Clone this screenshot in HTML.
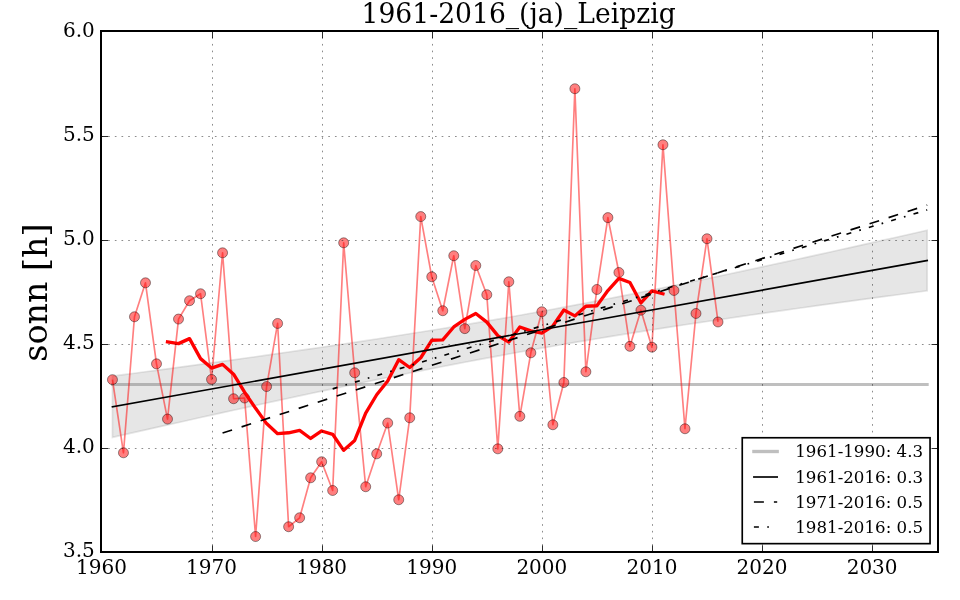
<!DOCTYPE html>
<html><head><meta charset="utf-8"><title>1961-2016_(ja)_Leipzig</title>
<style>html,body{margin:0;padding:0;background:#fff;overflow:hidden}svg{display:block}</style></head>
<body>
<svg width="960" height="600" viewBox="0 0 960 600">
<rect x="0" y="0" width="960" height="600" fill="#fff"/>
<polygon points="112.46,376.15 123.47,374.69 134.48,373.23 145.49,371.77 156.5,370.3 167.51,368.82 178.52,367.34 189.53,365.84 200.54,364.35 211.55,362.84 222.56,361.32 233.57,359.8 244.58,358.27 255.59,356.73 266.6,355.18 277.61,353.61 288.62,352.04 299.63,350.45 310.64,348.86 321.65,347.24 332.66,345.62 343.67,343.98 354.68,342.33 365.69,340.66 376.7,338.97 387.71,337.27 398.72,335.54 409.73,333.8 420.74,332.04 431.75,330.26 442.76,328.46 453.77,326.64 464.78,324.8 475.79,322.93 486.8,321.04 497.81,319.13 508.82,317.2 519.83,315.24 530.83,313.26 541.84,311.26 552.85,309.23 563.86,307.18 574.87,305.11 585.88,303.01 596.89,300.89 607.9,298.75 618.91,296.59 629.92,294.41 640.93,292.21 651.94,290 662.95,287.76 673.96,285.5 684.97,283.23 695.98,280.94 706.99,278.64 718,276.32 729.01,273.99 740.02,271.64 751.03,269.28 762.04,266.91 773.05,264.53 784.06,262.13 795.07,259.73 806.08,257.32 817.09,254.89 828.1,252.46 839.11,250.02 850.12,247.57 861.13,245.11 872.14,242.65 883.15,240.18 894.16,237.7 905.17,235.22 916.18,232.73 927.19,230.24 927.19,290.82 916.18,292.28 905.17,293.74 894.16,295.21 883.15,296.69 872.14,298.17 861.13,299.66 850.12,301.16 839.11,302.66 828.1,304.17 817.09,305.69 806.08,307.22 795.07,308.76 784.06,310.3 773.05,311.86 762.04,313.43 751.03,315.01 740.02,316.6 729.01,318.21 718,319.83 706.99,321.46 695.98,323.11 684.97,324.77 673.96,326.45 662.95,328.15 651.94,329.87 640.93,331.6 629.92,333.35 618.91,335.12 607.9,336.92 596.89,338.73 585.88,340.56 574.87,342.42 563.86,344.3 552.85,346.2 541.84,348.12 530.83,350.07 519.83,352.04 508.82,354.04 497.81,356.06 486.8,358.1 475.79,360.16 464.78,362.25 453.77,364.36 442.76,366.49 431.75,368.64 420.74,370.81 409.73,373 398.72,375.22 387.71,377.45 376.7,379.69 365.69,381.96 354.68,384.24 343.67,386.54 332.66,388.85 321.65,391.18 310.64,393.52 299.63,395.87 288.62,398.24 277.61,400.62 266.6,403.01 255.59,405.41 244.58,407.82 233.57,410.24 222.56,412.67 211.55,415.11 200.54,417.55 189.53,420 178.52,422.47 167.51,424.93 156.5,427.41 145.49,429.89 134.48,432.37 123.47,434.87 112.46,437.36" fill="#808080" fill-opacity="0.2" stroke="#808080" stroke-opacity="0.2" stroke-width="1.67" stroke-linejoin="miter"/>
<line x1="112.46" y1="384.41" x2="927.19" y2="384.41" stroke="#808080" stroke-opacity="0.5" stroke-width="3" stroke-linecap="square"/>
<polyline fill="none" stroke="#ff0000" stroke-opacity="0.5" stroke-width="1.67" stroke-linejoin="round" points="112.46,379.68 123.47,452.79 134.48,316.77 145.49,282.82 156.5,363.85 167.51,419.05 178.52,319.06 189.53,300.73 200.54,293.75 211.55,379.47 222.56,252.82 233.57,398.74 244.58,398.01 255.59,536.53 266.6,386.55 277.61,323.44 288.62,526.74 299.63,517.78 310.64,477.79 321.65,461.75 332.66,490.49 343.67,242.82 354.68,372.8 365.69,486.74 376.7,453.83 387.71,423 398.72,499.76 409.73,417.8 420.74,216.58 431.75,276.78 442.76,310.73 453.77,255.74 464.78,328.64 475.79,265.53 486.8,294.69 497.81,448.83 508.82,281.78 519.83,416.34 530.83,352.81 541.84,311.77 552.85,424.77 563.86,382.49 574.87,88.74 585.88,371.76 596.89,289.48 607.9,217.62 618.91,272.49 629.92,346.35 640.93,310.23 651.94,347.18 662.95,144.76 673.96,290.46 684.97,428.75 695.98,313.48 706.99,238.74 718,321.98"/>
<g fill="#ff0000" fill-opacity="0.5" stroke="#000" stroke-opacity="0.5" stroke-width="0.83">
<circle cx="112.46" cy="379.68" r="5"/>
<circle cx="123.47" cy="452.79" r="5"/>
<circle cx="134.48" cy="316.77" r="5"/>
<circle cx="145.49" cy="282.82" r="5"/>
<circle cx="156.5" cy="363.85" r="5"/>
<circle cx="167.51" cy="419.05" r="5"/>
<circle cx="178.52" cy="319.06" r="5"/>
<circle cx="189.53" cy="300.73" r="5"/>
<circle cx="200.54" cy="293.75" r="5"/>
<circle cx="211.55" cy="379.47" r="5"/>
<circle cx="222.56" cy="252.82" r="5"/>
<circle cx="233.57" cy="398.74" r="5"/>
<circle cx="244.58" cy="398.01" r="5"/>
<circle cx="255.59" cy="536.53" r="5"/>
<circle cx="266.6" cy="386.55" r="5"/>
<circle cx="277.61" cy="323.44" r="5"/>
<circle cx="288.62" cy="526.74" r="5"/>
<circle cx="299.63" cy="517.78" r="5"/>
<circle cx="310.64" cy="477.79" r="5"/>
<circle cx="321.65" cy="461.75" r="5"/>
<circle cx="332.66" cy="490.49" r="5"/>
<circle cx="343.67" cy="242.82" r="5"/>
<circle cx="354.68" cy="372.8" r="5"/>
<circle cx="365.69" cy="486.74" r="5"/>
<circle cx="376.7" cy="453.83" r="5"/>
<circle cx="387.71" cy="423" r="5"/>
<circle cx="398.72" cy="499.76" r="5"/>
<circle cx="409.73" cy="417.8" r="5"/>
<circle cx="420.74" cy="216.58" r="5"/>
<circle cx="431.75" cy="276.78" r="5"/>
<circle cx="442.76" cy="310.73" r="5"/>
<circle cx="453.77" cy="255.74" r="5"/>
<circle cx="464.78" cy="328.64" r="5"/>
<circle cx="475.79" cy="265.53" r="5"/>
<circle cx="486.8" cy="294.69" r="5"/>
<circle cx="497.81" cy="448.83" r="5"/>
<circle cx="508.82" cy="281.78" r="5"/>
<circle cx="519.83" cy="416.34" r="5"/>
<circle cx="530.83" cy="352.81" r="5"/>
<circle cx="541.84" cy="311.77" r="5"/>
<circle cx="552.85" cy="424.77" r="5"/>
<circle cx="563.86" cy="382.49" r="5"/>
<circle cx="574.87" cy="88.74" r="5"/>
<circle cx="585.88" cy="371.76" r="5"/>
<circle cx="596.89" cy="289.48" r="5"/>
<circle cx="607.9" cy="217.62" r="5"/>
<circle cx="618.91" cy="272.49" r="5"/>
<circle cx="629.92" cy="346.35" r="5"/>
<circle cx="640.93" cy="310.23" r="5"/>
<circle cx="651.94" cy="347.18" r="5"/>
<circle cx="662.95" cy="144.76" r="5"/>
<circle cx="673.96" cy="290.46" r="5"/>
<circle cx="684.97" cy="428.75" r="5"/>
<circle cx="695.98" cy="313.48" r="5"/>
<circle cx="706.99" cy="238.74" r="5"/>
<circle cx="718" cy="321.98" r="5"/>
</g>
<polyline fill="none" stroke="#ff0000" stroke-width="3.33" stroke-linejoin="round" stroke-linecap="square" points="167.51,341.89 178.52,343.62 189.53,338.64 200.54,358.62 211.55,368.05 222.56,364.38 233.57,374.17 244.58,392.23 255.59,408.33 266.6,423.6 277.61,433.69 288.62,432.78 299.63,430.43 310.64,438.49 321.65,430.98 332.66,434.29 343.67,450.32 354.68,440.42 365.69,413.03 376.7,394.76 387.71,381.03 398.72,359.69 409.73,367.49 420.74,357.74 431.75,340.28 442.76,339.83 453.77,326.99 464.78,319.4 475.79,313.5 486.8,322.15 497.81,335.6 508.82,342.13 519.83,326.95 530.83,330.87 541.84,333.04 552.85,326.04 563.86,310.01 574.87,315.88 585.88,306.23 596.89,305.72 607.9,290.53 618.91,278.32 629.92,282.53 640.93,302.96 651.94,290.87 662.95,293.82"/>
<line x1="112.46" y1="406.76" x2="927.19" y2="260.53" stroke="#000" stroke-width="1.67" stroke-linecap="square"/>
<line x1="222.56" y1="433" x2="927.19" y2="205.12" stroke="#000" stroke-width="1.67" stroke-dasharray="10 10"/>
<line x1="332.66" y1="388.84" x2="927.19" y2="209.91" stroke="#000" stroke-width="1.67" stroke-dasharray="5 8.33 1.67 8.33"/>
<g stroke="#000" stroke-opacity="0.55" stroke-width="0.83" stroke-dasharray="1.67 5" fill="none">
<line x1="101.5" y1="552.5" x2="101.5" y2="31.4"/>
<line x1="212.5" y1="552.5" x2="212.5" y2="31.4"/>
<line x1="322.5" y1="552.5" x2="322.5" y2="31.4"/>
<line x1="432.5" y1="552.5" x2="432.5" y2="31.4"/>
<line x1="542.5" y1="552.5" x2="542.5" y2="31.4"/>
<line x1="652.5" y1="552.5" x2="652.5" y2="31.4"/>
<line x1="762.5" y1="552.5" x2="762.5" y2="31.4"/>
<line x1="872.5" y1="552.5" x2="872.5" y2="31.4"/>
<line x1="101.5" y1="552.5" x2="938.2" y2="552.5"/>
<line x1="101.5" y1="448.5" x2="938.2" y2="448.5"/>
<line x1="101.5" y1="344.5" x2="938.2" y2="344.5"/>
<line x1="101.5" y1="240.5" x2="938.2" y2="240.5"/>
<line x1="101.5" y1="136.5" x2="938.2" y2="136.5"/>
<line x1="101.5" y1="31.5" x2="938.2" y2="31.5"/>
</g>
<g stroke="#000" stroke-width="0.83" fill="none">
<line x1="101.5" y1="552.15" x2="101.5" y2="545.48"/>
<line x1="101.5" y1="31.4" x2="101.5" y2="38.07"/>
<line x1="212.5" y1="552.15" x2="212.5" y2="545.48"/>
<line x1="212.5" y1="31.4" x2="212.5" y2="38.07"/>
<line x1="322.5" y1="552.15" x2="322.5" y2="545.48"/>
<line x1="322.5" y1="31.4" x2="322.5" y2="38.07"/>
<line x1="432.5" y1="552.15" x2="432.5" y2="545.48"/>
<line x1="432.5" y1="31.4" x2="432.5" y2="38.07"/>
<line x1="542.5" y1="552.15" x2="542.5" y2="545.48"/>
<line x1="542.5" y1="31.4" x2="542.5" y2="38.07"/>
<line x1="652.5" y1="552.15" x2="652.5" y2="545.48"/>
<line x1="652.5" y1="31.4" x2="652.5" y2="38.07"/>
<line x1="762.5" y1="552.15" x2="762.5" y2="545.48"/>
<line x1="762.5" y1="31.4" x2="762.5" y2="38.07"/>
<line x1="872.5" y1="552.15" x2="872.5" y2="545.48"/>
<line x1="872.5" y1="31.4" x2="872.5" y2="38.07"/>
<line x1="101.45" y1="552.5" x2="108.12" y2="552.5"/>
<line x1="938.2" y1="552.5" x2="931.53" y2="552.5"/>
<line x1="101.45" y1="448.5" x2="108.12" y2="448.5"/>
<line x1="938.2" y1="448.5" x2="931.53" y2="448.5"/>
<line x1="101.45" y1="344.5" x2="108.12" y2="344.5"/>
<line x1="938.2" y1="344.5" x2="931.53" y2="344.5"/>
<line x1="101.45" y1="240.5" x2="108.12" y2="240.5"/>
<line x1="938.2" y1="240.5" x2="931.53" y2="240.5"/>
<line x1="101.45" y1="136.5" x2="108.12" y2="136.5"/>
<line x1="938.2" y1="136.5" x2="931.53" y2="136.5"/>
<line x1="101.45" y1="31.5" x2="108.12" y2="31.5"/>
<line x1="938.2" y1="31.5" x2="931.53" y2="31.5"/>
</g>
<rect x="101" y="31" width="837" height="521" fill="none" stroke="#000" stroke-width="2"/>
<g font-family="'DejaVu Serif', 'Liberation Serif', serif" fill="#000">
<text transform="translate(518.6 22.8) scale(0.997 1.06)" font-size="26.67" text-anchor="middle">1961-2016_(ja)_Leipzig</text>
<text transform="translate(46.7 292.6) rotate(-90)" font-size="33.33" text-anchor="middle">sonn [h]</text>
<text x="101.45" y="574" font-size="20" text-anchor="middle">1960</text>
<text x="211.55" y="574" font-size="20" text-anchor="middle">1970</text>
<text x="321.65" y="574" font-size="20" text-anchor="middle">1980</text>
<text x="431.75" y="574" font-size="20" text-anchor="middle">1990</text>
<text x="541.84" y="574" font-size="20" text-anchor="middle">2000</text>
<text x="651.94" y="574" font-size="20" text-anchor="middle">2010</text>
<text x="762.04" y="574" font-size="20" text-anchor="middle">2020</text>
<text x="872.14" y="574" font-size="20" text-anchor="middle">2030</text>
<text x="94.8" y="557.35" font-size="20" text-anchor="end">3.5</text>
<text x="94.8" y="453.2" font-size="20" text-anchor="end">4.0</text>
<text x="94.8" y="349.05" font-size="20" text-anchor="end">4.5</text>
<text x="94.8" y="244.9" font-size="20" text-anchor="end">5.0</text>
<text x="94.8" y="140.75" font-size="20" text-anchor="end">5.5</text>
<text x="94.8" y="36.6" font-size="20" text-anchor="end">6.0</text>
<rect x="742.25" y="437.75" width="187.8" height="105.9" fill="#fff" stroke="#000" stroke-width="1.67"/>
<line x1="753.9" y1="451.5" x2="777.2" y2="451.5" stroke="#808080" stroke-opacity="0.5" stroke-width="3.33" stroke-linecap="square"/>
<line x1="753.9" y1="477.0" x2="777.2" y2="477.0" stroke="#000" stroke-width="1.67" stroke-linecap="square"/>
<line x1="753.9" y1="502.0" x2="777.2" y2="502.0" stroke="#000" stroke-width="1.67" stroke-dasharray="10 10"/>
<line x1="753.9" y1="527.0" x2="777.2" y2="527.0" stroke="#000" stroke-width="1.67" stroke-dasharray="5 8.33 1.67 8.33"/>
<text x="795.25" y="457.3" font-size="16.67">1961-1990: 4.3</text>
<text x="795.25" y="482.5" font-size="16.67">1961-2016: 0.3</text>
<text x="795.25" y="507.65" font-size="16.67">1971-2016: 0.5</text>
<text x="795.25" y="532.9" font-size="16.67">1981-2016: 0.5</text>
</g>
</svg>
</body></html>
